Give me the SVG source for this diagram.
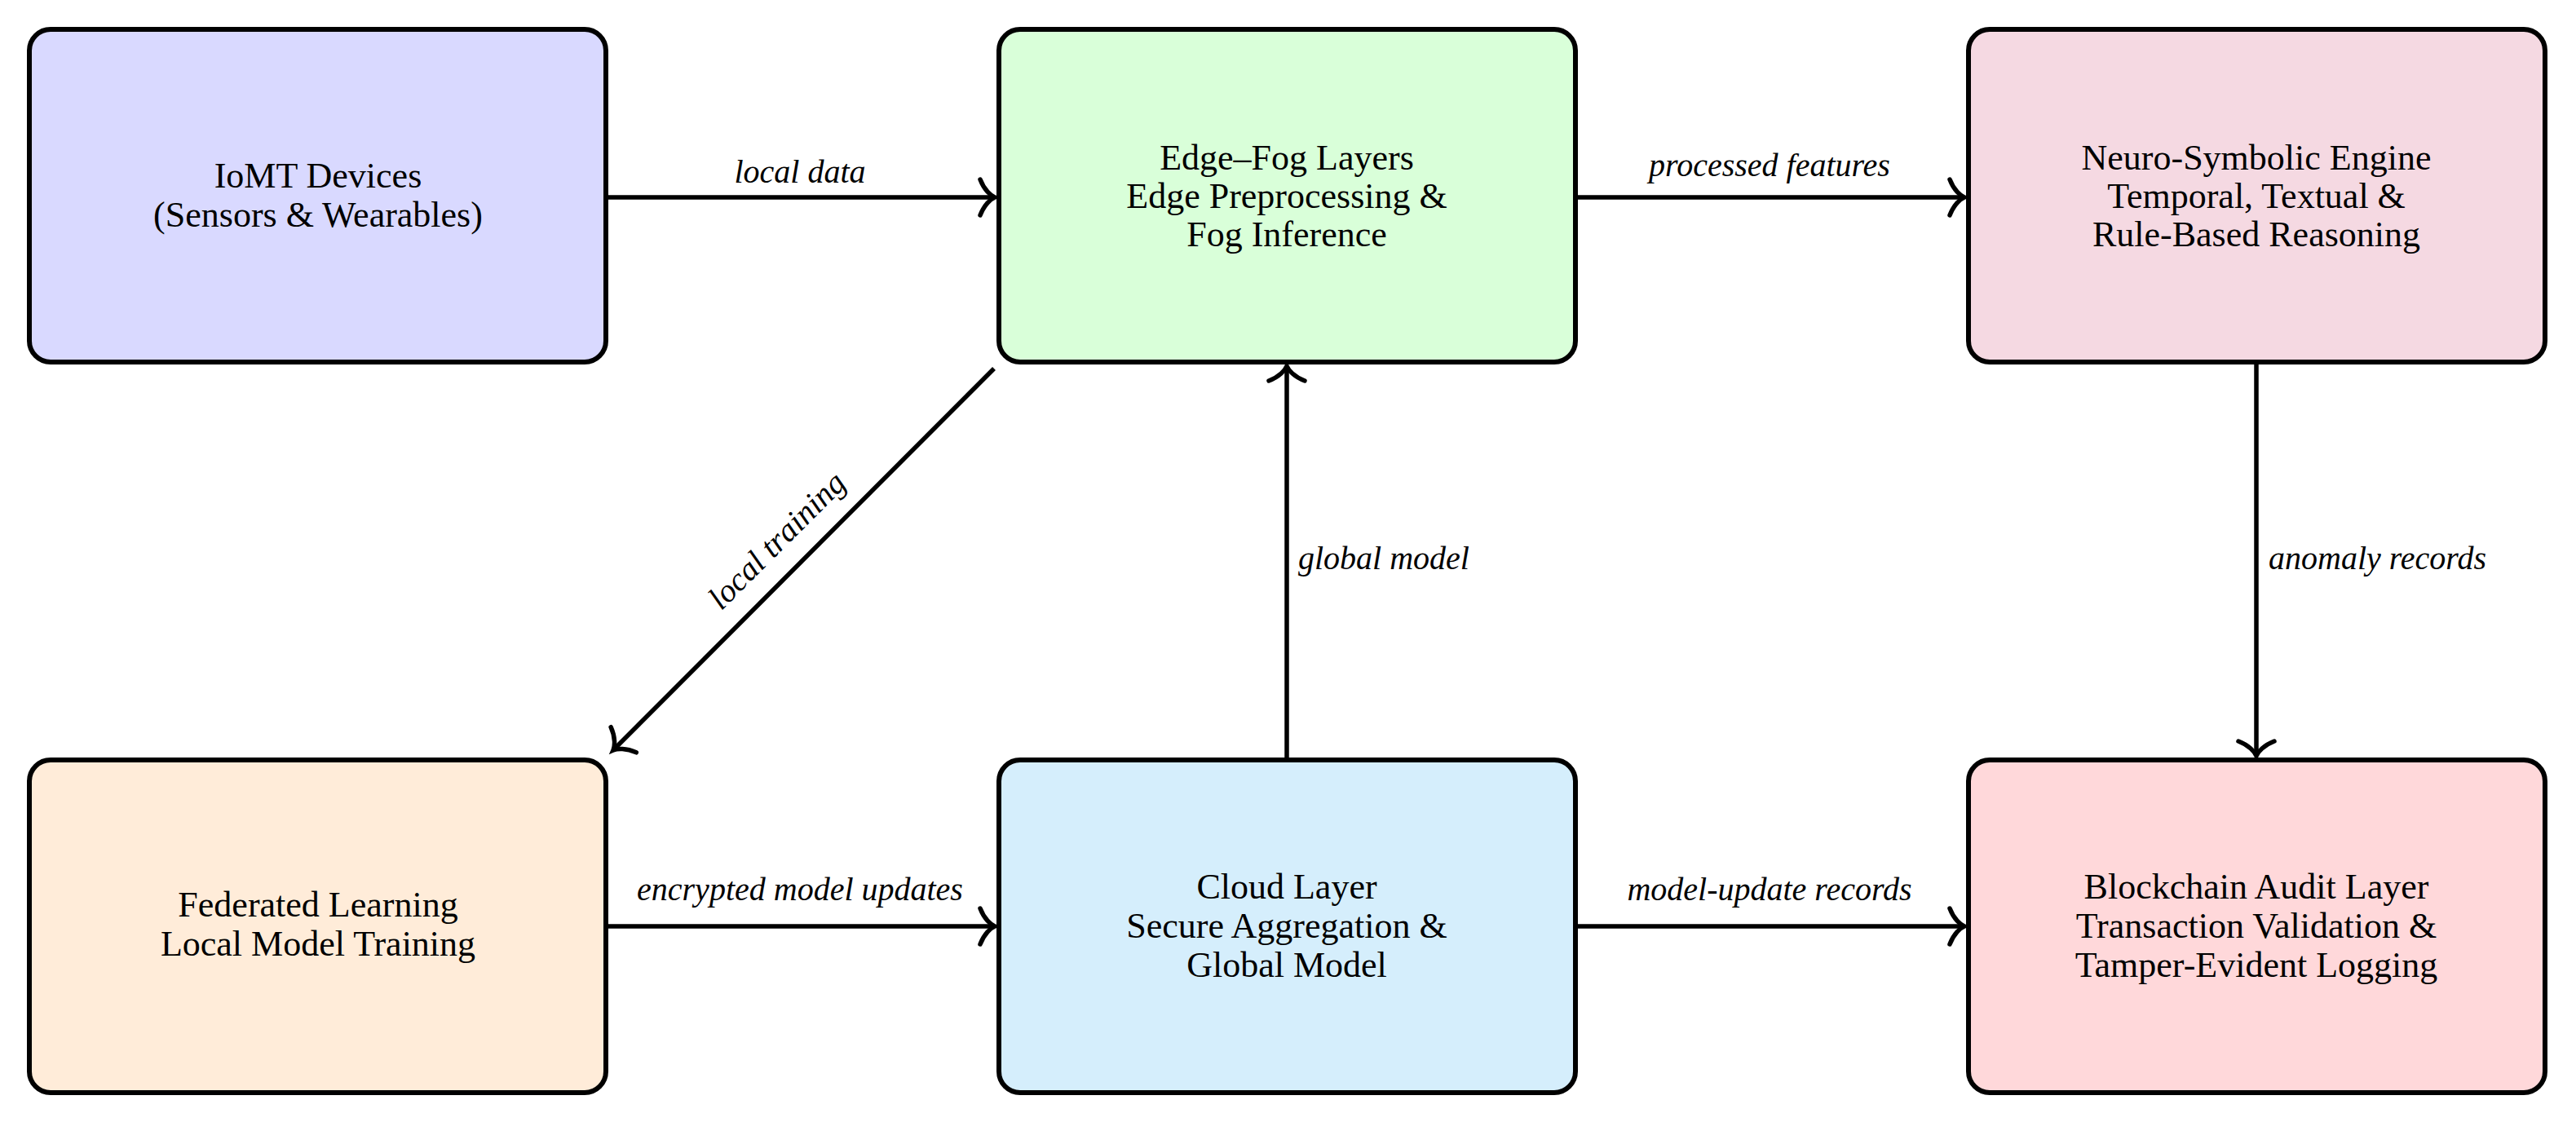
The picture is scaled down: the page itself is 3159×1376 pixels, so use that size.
<svg xmlns="http://www.w3.org/2000/svg" width="3159" height="1376" viewBox="0 0 3159 1376">
<style>
.box{stroke:#000;stroke-width:6}
.nt{font-family:"Liberation Serif","Times New Roman",serif;font-size:44px;fill:#000;text-anchor:middle}
.lb{font-family:"Liberation Serif","Times New Roman",serif;font-size:40px;font-style:italic;fill:#000}
.cn{fill:none;stroke:#000;stroke-width:5.5;marker-end:url(#arr)}
</style>
<defs>
<marker id="arr" viewBox="-30 -30 40 60" markerWidth="40" markerHeight="60" refX="0" refY="0" orient="auto" markerUnits="userSpaceOnUse" overflow="visible">
<path d="M-18,-22 C-13,-9 -5,-2 0,0 C-5,2 -13,9 -18,22" fill="none" stroke="#000" stroke-width="5.5" stroke-linecap="round"/>
</marker>
</defs>
<rect width="3159" height="1376" fill="#fff"/>
<g id="connectors">
<line class="cn" x1="746" y1="242" x2="1220" y2="242"/>
<line class="cn" x1="1935" y1="242" x2="2409" y2="242"/>
<line class="cn" x1="746" y1="1136" x2="1220" y2="1136"/>
<line class="cn" x1="1935" y1="1136" x2="2409" y2="1136"/>
<line class="cn" x1="1578" y1="929" x2="1578" y2="449"/>
<line class="cn" x1="2767" y1="447" x2="2767" y2="927"/>
<line class="cn" x1="1219" y1="452" x2="752" y2="920"/>
<text class="lb" x="981" y="224" text-anchor="middle">local data</text>
<text class="lb" x="2170" y="216" text-anchor="middle">processed features</text>
<text class="lb" x="981" y="1104" text-anchor="middle">encrypted model updates</text>
<text class="lb" x="2170" y="1104" text-anchor="middle">model-update records</text>
<text class="lb" x="1592" y="698">global model</text>
<text class="lb" x="2782" y="698">anomaly records</text>
<text class="lb" x="0" y="0" text-anchor="middle" transform="translate(962,672) rotate(-45)">local training</text>
</g>
<g id="iomt">
<rect class="box" x="36" y="36" width="707" height="408" rx="26" fill="#D9D9FF"/>
<text class="nt" x="390" y="230">IoMT Devices</text>
<text class="nt" x="390" y="278">(Sensors &amp; Wearables)</text>
</g>
<g id="edgefog">
<rect class="box" x="1225" y="36" width="707" height="408" rx="26" fill="#D9FFD9"/>
<text class="nt" x="1578" y="208">Edge–Fog Layers</text>
<text class="nt" x="1578" y="255">Edge Preprocessing &amp;</text>
<text class="nt" x="1578" y="302">Fog Inference</text>
</g>
<g id="neuro">
<rect class="box" x="2414" y="36" width="707" height="408" rx="26" fill="#F5D9E2"/>
<text class="nt" x="2767" y="208">Neuro-Symbolic Engine</text>
<text class="nt" x="2767" y="255">Temporal, Textual &amp;</text>
<text class="nt" x="2767" y="302">Rule-Based Reasoning</text>
</g>
<g id="federated">
<rect class="box" x="36" y="932" width="707" height="408" rx="26" fill="#FFECD9"/>
<text class="nt" x="390" y="1124">Federated Learning</text>
<text class="nt" x="390" y="1172">Local Model Training</text>
</g>
<g id="cloud">
<rect class="box" x="1225" y="932" width="707" height="408" rx="26" fill="#D5EEFC"/>
<text class="nt" x="1578" y="1102">Cloud Layer</text>
<text class="nt" x="1578" y="1150">Secure Aggregation &amp;</text>
<text class="nt" x="1578" y="1198">Global Model</text>
</g>
<g id="blockchain">
<rect class="box" x="2414" y="932" width="707" height="408" rx="26" fill="#FFD8DA"/>
<text class="nt" x="2767" y="1102">Blockchain Audit Layer</text>
<text class="nt" x="2767" y="1150">Transaction Validation &amp;</text>
<text class="nt" x="2767" y="1198">Tamper-Evident Logging</text>
</g>
</svg>
